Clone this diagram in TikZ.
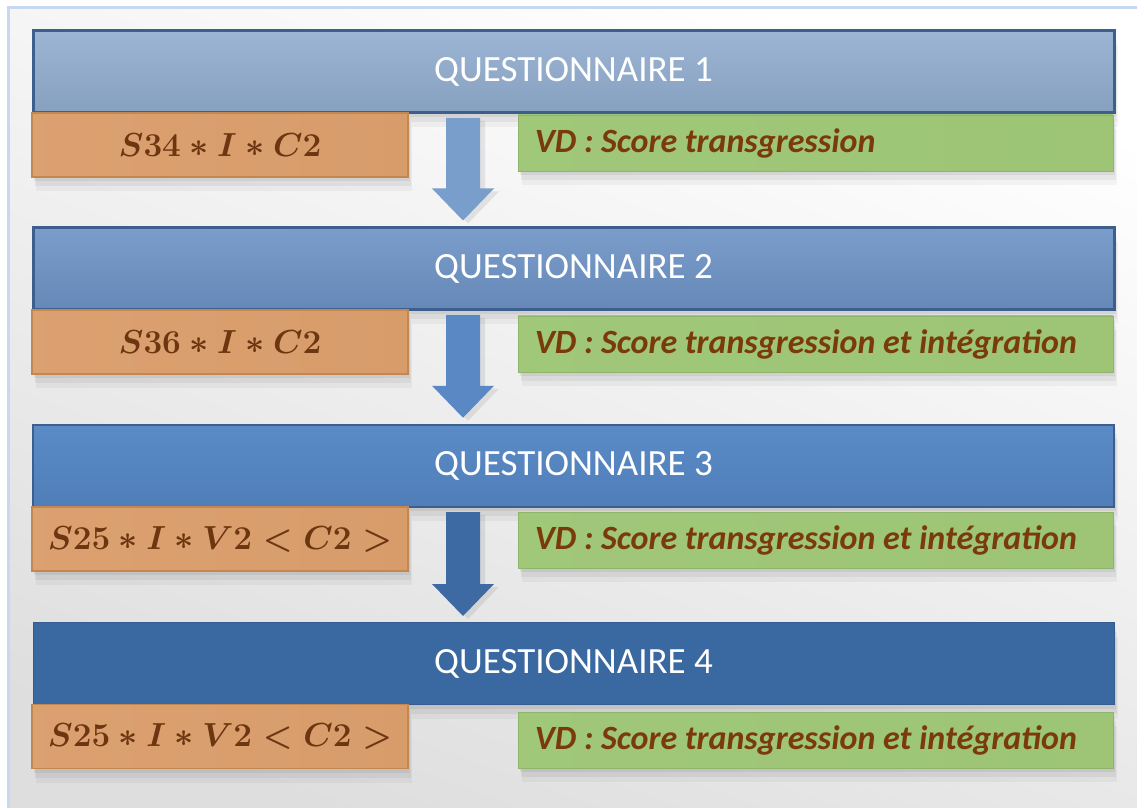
\documentclass[tikz,border=0pt]{standalone}
\usepackage{graphicx}
\usepackage{fontspec}
\setmainfont{Carlito}
\usetikzlibrary{shadows,calc}

\definecolor{frameblue}{HTML}{C6D9F1}
\definecolor{bordblue}{HTML}{3C5F8E}
\definecolor{orangeL}{HTML}{F2B886}
\definecolor{orangeM}{HTML}{DEA272}
\definecolor{orangeR}{HTML}{D59A68}
\definecolor{orangeB}{HTML}{C4874F}
\definecolor{greenL}{HTML}{B3DB8F}
\definecolor{greenM}{HTML}{A2C97B}
\definecolor{greenR}{HTML}{9BC373}
\definecolor{greenB}{HTML}{8FB46B}
\definecolor{brownT}{HTML}{7A3A0A}
\definecolor{brownM}{HTML}{6B3610}
\definecolor{arrowA}{HTML}{7A9ECB}
\definecolor{arrowB}{HTML}{5A88C4}
\definecolor{arrowC}{HTML}{3D6AA3}
\definecolor{barAt}{HTML}{9DB5D5}
\definecolor{barAb}{HTML}{86A0C0}
\definecolor{barBt}{HTML}{7A9DCA}
\definecolor{barBb}{HTML}{6688B8}
\definecolor{barCt}{HTML}{5B8BC6}
\definecolor{barCb}{HTML}{4F7EB9}
\definecolor{barD}{HTML}{3A68A0}
\definecolor{barDb}{HTML}{345C8E}

% fills that brighten only towards the left edge
\pgfdeclarehorizontalshading{orangefill}{100bp}{color(0bp)=(orangeL); color(10bp)=(orangeM); color(100bp)=(orangeR)}
\pgfdeclarehorizontalshading{greenfill}{100bp}{color(0bp)=(greenL); color(6bp)=(greenM); color(100bp)=(greenR)}

% model formula, set large
\newcommand\model[1]{\scalebox{1.34}{$#1$}}

% block arrow pointing down: #1 start coordinate, #2 tip coordinate, #3 colour
\newcommand\flowarrow[3]{%
  \fill[#3, general shadow={fill=black, opacity=.08, shadow xshift=5pt, shadow yshift=-3pt}]
    let \p1=(#1), \p2=(#2) in
    (\x1-17,\y1) -- (\x1+17,\y1) -- (\x1+17,\y2+32) -- (\x1+31,\y2+32) -- (\x2,\y2)
    -- (\x1-31,\y2+32) -- (\x1-17,\y2+32) -- cycle;}

\tikzset{
  soft/.style={
    general shadow={fill=black, opacity=.04, shadow yshift=-14pt, shadow xshift=4pt},
    general shadow={fill=black, opacity=.05, shadow yshift=-9pt, shadow xshift=3pt},
    general shadow={fill=black, opacity=.06, shadow yshift=-4pt, shadow xshift=2pt}},
  qbar/.style={soft, rectangle, minimum width=1081pt, minimum height=82pt,
    inner sep=0pt, text=white, font=\fontsize{37}{37}\selectfont, shading=axis},
  formula/.style={soft, rectangle, minimum width=376pt, minimum height=64pt,
    inner sep=0pt, draw=orangeB, line width=1.5pt, shading=orangefill,
    text=brownM, font=\fontsize{24.88}{24.88}\selectfont\boldmath},
  vdbox/.style={soft, rectangle, minimum width=595pt, minimum height=56pt,
    inner sep=0pt, draw=greenB, line width=0.8pt, shading=greenfill},
  vdtext/.style={anchor=west, inner sep=0pt, text=brownT,
    font=\fontsize{34}{34}\selectfont\bfseries\itshape},
}

\begin{document}
\begin{tikzpicture}[x=1pt, y=1pt]
  \useasboundingbox (0,0) rectangle (1137,807);
  % framed background
  \shade[top color=white, bottom color=black!13, shading angle=-20]
    (8,-30) rectangle (1160,799);
  \draw[frameblue, line width=3pt] (8,-30) -- (8,799) -- (1160,799);

  % questionnaire bars
  \node[qbar, top color=barAt, bottom color=barAb,
        draw=bordblue, line width=3pt] (q1) at (573.5,807-72) {QUESTIONNAIRE 1};
  \node[qbar, top color=barBt, bottom color=barBb,
        draw=bordblue, line width=3pt] (q2) at (573.5,807-269) {QUESTIONNAIRE 2};
  \node[qbar, top color=barCt, bottom color=barCb,
        draw=bordblue, line width=2.5pt] (q3) at (573.5,807-466) {QUESTIONNAIRE 3};
  \node[qbar, top color=barD, bottom color=barD,
        draw=barDb, line width=1pt] (q4) at (573.5,807-663.5) {QUESTIONNAIRE 4};

  % arrows between the questionnaires
  \coordinate (a1s) at (463,807-118);
  \coordinate (a2s) at (463,807-315);
  \coordinate (a3s) at (463,807-512);
  \coordinate (a1e) at ([yshift=6pt]q2.north -| a1s);
  \coordinate (a2e) at ([yshift=6pt]q3.north -| a2s);
  \coordinate (a3e) at ([yshift=6pt]q4.north -| a3s);
  \flowarrow{a1s}{a1e}{arrowA}
  \flowarrow{a2s}{a2e}{arrowB}
  \flowarrow{a3s}{a3e}{arrowC}

  % models
  \node[formula] (m1) at (220,807-145) {\model{S34 \ast I \ast C2}};
  \node[formula] (m2) at (220,807-342) {\model{S36 \ast I \ast C2}};
  \node[formula] (m3) at (220,807-539) {\model{S25 \ast I \ast V2 < C2 >}};
  \node[formula] (m4) at (220,807-736.5) {\model{S25 \ast I \ast V2 < C2 >}};

  % dependent variables
  \node[vdbox] (v1) at (815.5,807-143) {};
  \node[vdtext] (t1) at ([xshift=17pt]v1.west) {VD : Score transgression};
  \node[vdbox] (v2) at (815.5,807-344) {};
  \node[vdtext] (t2) at ([xshift=17pt]v2.west) {VD : Score transgression et intégration};
  \node[vdbox] (v3) at (815.5,807-540) {};
  \node[vdtext] (t3) at ([xshift=17pt]v3.west) {VD : Score transgression et intégration};
  \node[vdbox] (v4) at (815.5,807-740) {};
  \node[vdtext] (t4) at ([xshift=17pt]v4.west) {VD : Score transgression et intégration};
\end{tikzpicture}
\end{document}
